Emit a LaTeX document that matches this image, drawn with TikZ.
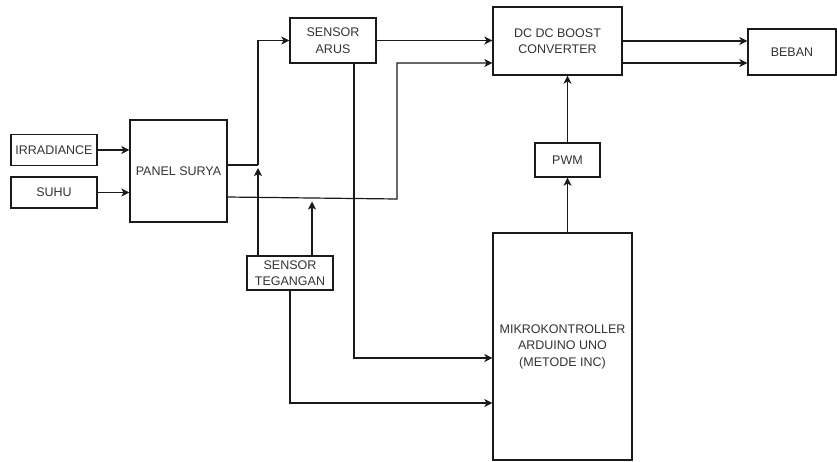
\documentclass[tikz,border=0pt]{standalone}
\usepackage{fontspec}
\setmainfont{Liberation Sans}
\usetikzlibrary{arrows.meta}
\definecolor{ln}{HTML}{1A1A1A}
\definecolor{tx}{HTML}{333333}
\begin{document}
\begin{tikzpicture}[x=1pt,y=-1pt,
  box/.style={draw=ln,line width=1.2pt,rectangle,inner sep=0pt,align=center,text=tx,
    font=\fontsize{12.5}{16.5}\selectfont},
  arr/.style={draw=ln,line width=1.2pt,-{Stealth[length=8pt,width=8pt,inset=2pt]}},
  ln/.style={draw=ln,line width=1.2pt}]
\useasboundingbox (0,0) rectangle (837,461);
\fill[white] (0,0) rectangle (837,461);
\node[box,minimum width=86pt,minimum height=31pt] (irr) at (54,150) {IRRADIANCE};
\node[box,minimum width=86pt,minimum height=31pt] (suhu) at (54,192.5) {SUHU};
\node[box,minimum width=97pt,minimum height=102pt] (panel) at (178.5,171) {PANEL SURYA};
\node[box,minimum width=86pt,minimum height=45pt] (sarus) at (333,40.5) {SENSOR\\ARUS};
\node[box,minimum width=86pt,minimum height=34pt] (stg) at (290,273) {SENSOR\\TEGANGAN};
\node[box,minimum width=129pt,minimum height=68pt] (dc) at (557.5,41) {DC DC BOOST\\CONVERTER};
\node[box,minimum width=88pt,minimum height=46pt] (beban) at (792,52) {BEBAN};
\node[box,minimum width=65pt,minimum height=34pt] (pwm) at (567.5,160) {PWM};
\node[box,minimum width=139pt,minimum height=227pt] (mikro) at (562.5,346.5) {MIKROKONTROLLER\\ARDUINO UNO\\(METODE INC)};
\coordinate (j1) at (258,165);
\coordinate (p2) at (227,197);
\coordinate (j2) at (397,199);
\coordinate (j3) at (312,198.5);
\coordinate (sa) at (354,63);
\coordinate (sa2) at (354,358);
% inputs
\draw[arr] (irr.east) -- (irr.east -| panel.west);
\draw[arr] (suhu.east) -- (suhu.east -| panel.west);
% panel to sensor arus
\draw[ln] (panel.east |- j1) -- (j1);
\draw[arr] (j1) |- (sarus.west);
% panel to dc (second line)
\draw[arr] (p2) -- (j2) |- ([yshift=-22pt]dc.west);
% sensor tegangan taps
\draw[arr] (stg.north -| j1) -- ([yshift=-3pt]j1);
\draw[arr] (stg.north -| j3) -- ([yshift=-3pt]j3);
% sensor arus to dc
\draw[arr] (sarus.east) -- (sarus.east -| dc.west);
% dc to beban
\draw[arr] (dc.east) -- (dc.east -| beban.west);
\draw[arr] ([yshift=-22pt]dc.east) -- ([yshift=-22pt]dc.east -| beban.west);
% sensors to mikro
\draw[arr] (sa) -- (sa2) -- (sa2 -| mikro.west);
\draw[arr] (stg.south) |- (mikro.west |- 0,403);
% mikro to pwm to dc
\draw[arr] (pwm.south |- mikro.north) -- (pwm.south);
\draw[arr] (pwm.north) -- (pwm.north |- dc.south);
\end{tikzpicture}
\end{document}
